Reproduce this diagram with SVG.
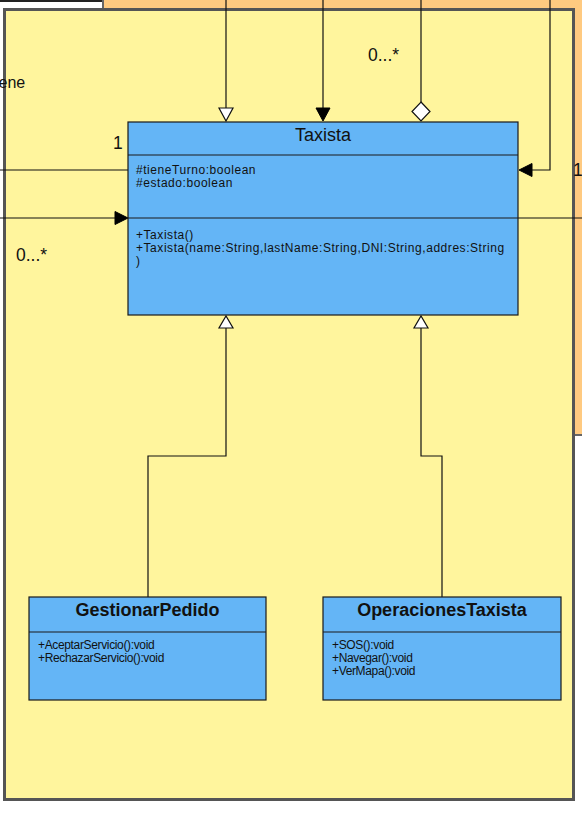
<svg xmlns="http://www.w3.org/2000/svg" width="582" height="818" viewBox="0 0 582 818">
<style>
.cls{fill:#64B5F6;stroke:#1a1a1a;stroke-width:1.2}
.sep{stroke:#1a1a1a;stroke-width:1.2}
.t{font-family:"Liberation Sans",Arial,sans-serif;fill:#111}
.title{font-size:18px;text-anchor:middle}
.btitle{font-size:18px;font-weight:bold;text-anchor:middle}
.mem{font-size:12px;letter-spacing:0.55px}
.mem2{font-size:12px;letter-spacing:-0.35px}
.lbl{font-size:17.5px;font-family:"Liberation Sans",Arial,sans-serif;fill:#111}
.ln{fill:none;stroke:#111;stroke-width:1.2}
.hollow{fill:#fff;stroke:#111;stroke-width:1.2}
.solid{fill:#000;stroke:#000;stroke-width:1}
</style>
<rect x="0" y="0" width="582" height="818" fill="#fff"/>
<!-- background frames -->
<g id="bg">
  <rect x="0" y="-20" width="102" height="21" fill="#fff" stroke="#222" stroke-width="2"/>
  <rect x="103" y="-10" width="500" height="445" fill="#FFCA80" stroke="#666" stroke-width="2"/>
  <rect x="4.5" y="9.5" width="569" height="790" fill="#FFF59D" stroke="#555" stroke-width="3"/>
</g>
<!-- connectors -->
<g id="connectors">
  <path class="ln" d="M226 0 V110"/>
  <polygon class="hollow" points="219,108 233,108 226,121"/>
  <path class="ln" d="M323 0 V110"/>
  <polygon class="solid" points="316,108 330,108 323,121"/>
  <path class="ln" d="M421 0 V102"/>
  <polygon class="hollow" points="421,102 430,111.5 421,121 412,111.5"/>
  <path class="ln" d="M550 0 V170 H530"/>
  <polygon class="solid" points="532,163.5 532,176.5 519,170"/>
  <path class="ln" d="M0 170 H128"/>
  <path class="ln" d="M0 218 H116"/>
  <polygon class="solid" points="115,211.5 115,224.5 128,218"/>
  <path class="ln" d="M518 218 H582"/>
  <path class="ln" d="M148 597 V456 H226 V328"/>
  <polygon class="hollow" points="219,328 233,328 226,316"/>
  <path class="ln" d="M442 597 V456 H421 V328"/>
  <polygon class="hollow" points="414,328 428,328 421,316"/>
  <text class="lbl" x="368" y="61">0...*</text>
  <text class="lbl" x="113" y="149">1</text>
  <text class="lbl" x="16" y="261">0...*</text>
  <text class="lbl" x="573" y="176">1</text>
  <text class="lbl" x="-1.5" y="88" style="font-size:16px">ene</text>
</g>
<!-- Taxista -->
<g id="Taxista">
  <rect class="cls" x="128" y="122" width="390" height="193"/>
  <line class="sep" x1="128" y1="155" x2="518" y2="155"/>
  <line class="sep" x1="128" y1="218" x2="518" y2="218"/>
  <text class="t title" x="323" y="141">Taxista</text>
  <text class="t mem" x="136" y="174">#tieneTurno:boolean</text>
  <text class="t mem" x="136" y="187">#estado:boolean</text>
  <text class="t mem" x="136" y="239">+Taxista()</text>
  <text class="t mem" x="136" y="252">+Taxista(name:String,lastName:String,DNI:String,addres:String</text>
  <text class="t mem" x="136" y="265">)</text>
</g>
<!-- GestionarPedido -->
<g id="GestionarPedido">
  <rect class="cls" x="29" y="597" width="237" height="103"/>
  <line class="sep" x1="29" y1="632" x2="266" y2="632"/>
  <text class="t btitle" x="147.5" y="616">GestionarPedido</text>
  <text class="t mem2" x="38" y="649">+AceptarServicio():void</text>
  <text class="t mem2" x="38" y="662">+RechazarServicio():void</text>
</g>
<!-- OperacionesTaxista -->
<g id="OperacionesTaxista">
  <rect class="cls" x="323" y="597" width="238" height="103"/>
  <line class="sep" x1="323" y1="632" x2="561" y2="632"/>
  <text class="t btitle" x="442" y="616">OperacionesTaxista</text>
  <text class="t mem2" x="332" y="649">+SOS():void</text>
  <text class="t mem2" x="332" y="662">+Navegar():void</text>
  <text class="t mem2" x="332" y="675">+VerMapa():void</text>
</g>
</svg>
